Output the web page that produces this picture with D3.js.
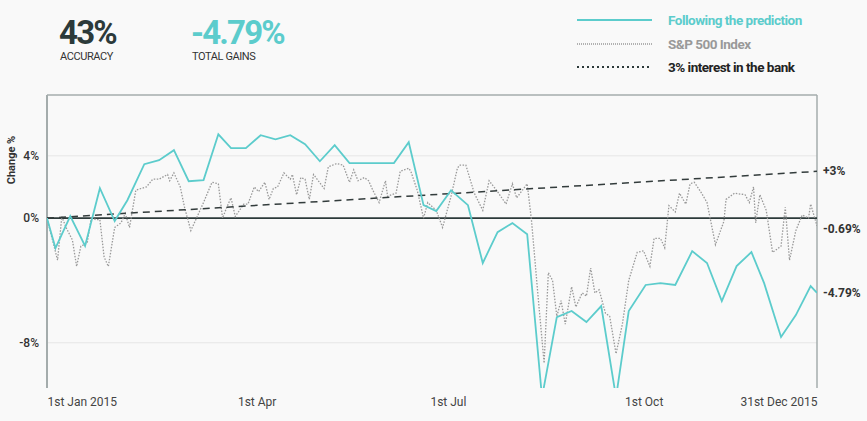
<!DOCTYPE html>
<html><head><meta charset="utf-8">
<script src="https://cdn.jsdelivr.net/npm/d3@7"></script>
<style>body{margin:0;background:#f9f9f9;font-family:Roboto,sans-serif}</style>
</head><body><svg id="c" width="867" height="421"></svg>
<script>
const predDays=[0,4,11,18,25,32,38,46,53,60,67,74,81,87,94,101,108,115,122,129,136,143,149,156,164,171,178,184,191,199,206,213,220,227,234,241,248,255,262,269,275,283,290,297,305,312,319,326,333,339,347,354,361,364];
const predVals=[0,-1.92,0.13,-1.79,1.92,-0.19,1.15,3.46,3.72,4.36,2.37,2.44,5.38,4.49,4.49,5.32,5.06,5.32,4.74,3.65,4.68,3.53,3.53,3.53,3.53,4.87,0.83,0.45,1.79,0.83,-2.88,-0.9,-0.32,-1.03,-11.5,-6.35,-5.96,-6.67,-5.64,-11.5,-5.96,-4.29,-4.17,-4.29,-2.12,-2.88,-5.32,-3.08,-2.18,-4.17,-7.63,-6.22,-4.36,-4.79];
const spDays=[0,5,7,9,12,14,16,19,21,23,25,27,29,32,35,37,39,42,47,50,53,57,58,60,63,65,68,71,74,78,81,83,85,87,89,93,95,98,100,103,105,107,109,112,115,116,118,120,122,124,126,131,133,137,140,143,145,147,150,152,154,157,160,161,165,167,171,172,175,178,180,184,187,191,194,195,198,202,206,209,213,217,220,222,227,229,232,235,237,239,241,243,245,248,250,253,255,257,259,261,264,266,269,272,275,279,282,285,287,290,292,294,297,299,302,304,306,309,312,316,320,321,325,330,332,334,335,337,340,343,347,349,351,354,357,360,361,364];
const spVals=[0,-2.7,0.1,-0.6,-1.4,-3.1,-1.8,-1.6,0.1,-0.1,-0.1,-2.5,-3.1,-0.6,-0.3,0.3,-0.6,1.8,2.0,2.5,2.5,2.8,2.4,2.9,2.0,0.7,-0.8,0.1,1.0,2.3,2.2,0,0.7,1.3,0.1,0.9,0.9,2.0,1.7,2.3,1.2,1.9,2.0,2.9,2.5,2.8,1.5,2.6,2.5,1.2,2.8,1.9,3.3,3.5,3.4,2.3,3.1,2.4,2.6,2.4,1.8,1.0,2.4,1.4,1.6,3.0,3.2,3.0,1.8,0,1.0,0.5,-0.6,1.4,3.2,3.4,3.4,1.6,0.5,2.4,1.7,0.9,2.2,1.3,2.2,-0.1,-4.8,-9.3,-3.5,-4.0,-6.3,-5.3,-6.8,-4.4,-5.7,-4.8,-5.0,-3.2,-4.8,-4.6,-6.1,-6.3,-8.7,-6.8,-4.0,-2.2,-2.1,-3.1,-1.3,-1.3,-1.9,0.8,0.4,1.6,0.9,2.2,2.3,1.7,1.0,-1.7,-0.2,1.2,1.6,1.5,1.0,2.0,-0.3,1.5,0.5,-2.2,-1.8,0.7,-2.7,-0.8,0.2,0,0.9,-0.5];
const bankDays=[0,364];
const bankVals=[0,3];
const yTicks=[4,0,-8];
const xTickDates=["2015-01-01","2015-04-01","2015-07-01","2015-10-01","2015-12-31"];
const xTickLabels=["1st Jan 2015","1st Apr","1st Jul","1st Oct","31st Dec 2015"];
const endLabels=[{v:3,t:"+3%"},{v:-0.69,t:"-0.69%"},{v:-4.79,t:"-4.79%"}];
const teal="#5ccccc";
const svg=d3.select("#c");
const L=47,R=817,T=95,B=388;
const start=new Date(2015,0,1);
const dd=d=>d3.timeDay.offset(start,d);
const x=d3.scaleTime().domain([start,new Date(2015,11,31)]).range([L,R]);
const y=d3.scaleLinear().domain([-10.9,7.9]).range([B,T]);
svg.append("defs").append("clipPath").attr("id","cp").append("rect").attr("x",L).attr("y",T).attr("width",R-L).attr("height",B-T);
svg.append("g").selectAll("line").data(yTicks.filter(v=>v!==0)).join("line")
 .attr("x1",L).attr("x2",R).attr("y1",d=>y(d)).attr("y2",d=>y(d)).attr("stroke","#e6e6e6");
svg.append("line").attr("x1",L).attr("x2",R).attr("y1",T).attr("y2",T).attr("stroke","#a4acac").attr("stroke-width",1.5);
svg.append("line").attr("x1",R).attr("x2",R).attr("y1",T).attr("y2",B).attr("stroke","#a4acac").attr("stroke-width",1.5);
svg.append("line").attr("x1",L).attr("x2",L).attr("y1",T).attr("y2",B).attr("stroke","#a4acac").attr("stroke-width",2);
const ya=svg.append("g").attr("transform",`translate(${L},0)`).call(d3.axisLeft(y).tickValues(yTicks).tickSize(0).tickPadding(8).tickFormat(d=>d+"%"));
ya.select(".domain").remove();
ya.selectAll("text").attr("font-family","Roboto").attr("font-size",12).attr("font-weight",500).attr("fill","#333");
svg.append("text").attr("transform","translate(15,160) rotate(-90)").attr("text-anchor","middle").attr("font-size",11).attr("font-weight",700).attr("fill","#333").text("Change %");
const xa=svg.append("g").attr("transform",`translate(0,${B})`).call(d3.axisBottom(x).tickValues(xTickDates.map(s=>d3.timeParse("%Y-%m-%d")(s))).tickSize(0).tickPadding(9).tickFormat((d,i)=>xTickLabels[i]));
xa.select(".domain").remove();
xa.selectAll("text").attr("font-family","Roboto").attr("font-size",12).attr("fill","#444").attr("text-anchor",(d,i)=>i===xTickLabels.length-1?"end":"start");
const g=svg.append("g").attr("clip-path","url(#cp)");
const line=d3.line().x(d=>x(dd(d[0]))).y(d=>y(d[1]));
g.append("line").attr("x1",L).attr("x2",R).attr("y1",y(0)).attr("y2",y(0)).attr("stroke","#2c3a3a").attr("stroke-width",1.6);
g.append("path").attr("d",line(d3.zip(spDays,spVals))).attr("fill","none").attr("stroke","#999").attr("stroke-width",1.3).attr("stroke-dasharray","1.5,1.5");
g.append("path").attr("d",line(d3.zip(bankDays,bankVals))).attr("fill","none").attr("stroke","#333c3c").attr("stroke-width",1.5).attr("stroke-dasharray","7,5");
g.append("path").attr("d",line(d3.zip(predDays,predVals))).attr("fill","none").attr("stroke",teal).attr("stroke-width",1.8);
svg.append("g").selectAll("text").data(endLabels).join("text").attr("x",R+6).attr("y",d=>y(d.v)+4)
 .attr("font-size",12).attr("font-weight",700).attr("fill","#333").text(d=>d.t);
svg.append("text").attr("x",59).attr("y",44).attr("font-size",33).attr("font-weight",700).attr("fill","#2c3a3a").attr("letter-spacing",-1.8).text("43%");
svg.append("text").attr("x",60).attr("y",60).attr("font-size",11).attr("fill","#333").attr("letter-spacing",-0.4).text("ACCURACY");
svg.append("text").attr("x",191).attr("y",44).attr("font-size",33).attr("font-weight",700).attr("fill",teal).attr("letter-spacing",-1.8).text("-4.79%");
svg.append("text").attr("x",192).attr("y",60).attr("font-size",11).attr("fill","#333").attr("letter-spacing",-0.4).text("TOTAL GAINS");
const leg=[{t:"Following the prediction",c:teal,tc:teal,dash:null,w:2,y:20},{t:"S&P 500 Index",c:"#999",tc:"#999",dash:"1,1",w:1.5,y:44},{t:"3% interest in the bank",c:"#2c3a3a",tc:"#222",dash:"2,3",w:2,y:67}];
const lg=svg.append("g").selectAll("g").data(leg).join("g");
lg.append("line").attr("x1",577).attr("x2",652).attr("y1",d=>d.y).attr("y2",d=>d.y).attr("stroke",d=>d.c).attr("stroke-width",d=>d.w).attr("stroke-dasharray",d=>d.dash);
lg.append("text").attr("x",668).attr("y",d=>d.y+4.5).attr("font-size",13.5).attr("font-weight",700).attr("letter-spacing",-0.5).attr("fill",d=>d.tc).text(d=>d.t);
</script></body></html>
